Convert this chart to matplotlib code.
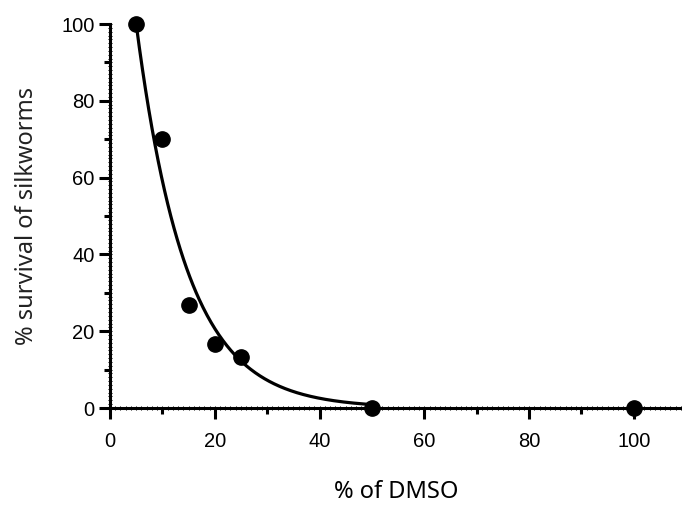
import matplotlib.pyplot as plt
import matplotlib.ticker as ticker
import numpy as np

# DMSO concentration (%) vs. silkworm survival (%)
dmso_pct = [5, 10, 15, 20, 25, 50, 100]
survival_pct = [100, 70, 26.7, 16.7, 13.3, 0, 0]

# one-phase decay fit, drawn from the first dose up to 50 %
fit_x0 = 5
fit_top = 100
fit_k = 0.105
fit_end = 50

x_ticks = [0, 20, 40, 60, 80, 100]
y_ticks = [0, 20, 40, 60, 80, 100]

fig = plt.figure(figsize=(6.82, 5.07), dpi=100)
ax = fig.add_axes([110 / 682, 99 / 507, 572 / 682, 384 / 507])

xs = np.linspace(fit_x0, fit_end, 300)
ax.plot(xs, fit_top * np.exp(-fit_k * (xs - fit_x0)), color="black", lw=2.3,
        clip_on=False, zorder=3)
ax.plot(dmso_pct, survival_pct, "o", color="black", ms=11, clip_on=False, zorder=4)

ax.set_xlim(0, 109.2)
ax.set_ylim(0, 100)

for side in ("top", "right"):
    ax.spines[side].set_visible(False)
for side in ("left", "bottom"):
    ax.spines[side].set_linewidth(2.2)

ax.set_xticks(x_ticks)
ax.set_yticks(y_ticks)
ax.xaxis.set_minor_locator(ticker.MultipleLocator(10))
ax.yaxis.set_minor_locator(ticker.MultipleLocator(10))
ax.tick_params(which="major", length=8, width=2.2, labelsize=14.5, pad=3)
ax.tick_params(which="minor", length=4, width=2.2)
for lab in ax.get_xticklabels() + ax.get_yticklabels():
    lab.set_fontfamily("Liberation Sans")
ax.tick_params(axis="x", pad=9)

# fine inner ticks along both axes
fine_x = ax.secondary_xaxis("bottom")
fine_x.set_xticks(np.arange(0, 110, 1))
fine_x.tick_params(direction="inout", length=3.5, width=0.7, labelbottom=False)
fine_x.spines["bottom"].set_visible(False)
fine_y = ax.secondary_yaxis("left")
fine_y.set_yticks(np.arange(0, 101, 1))
fine_y.tick_params(direction="inout", length=3.5, width=0.7, labelleft=False)
fine_y.spines["left"].set_visible(False)

ax.set_xlabel("% of DMSO", fontsize=17, family="Noto Sans", labelpad=21)
ax.set_ylabel("% survival of silkworms", fontsize=17, family="Noto Sans",
              labelpad=16, color="#222222")

fig.savefig("out.png", dpi=100)
